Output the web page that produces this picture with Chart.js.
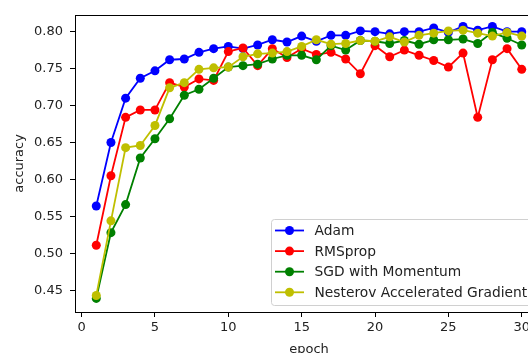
<!DOCTYPE html>
<html>
<head>
<meta charset="utf-8">
<script src="https://cdn.jsdelivr.net/npm/chart.js@4.4.1/dist/chart.umd.min.js"></script>
<style>
  html, body { margin: 0; padding: 0; background: #fff; overflow: hidden; }
  canvas { display: block; }
</style>
</head>
<body>
<canvas id="myChart" width="560" height="353"></canvas>
<script>
'use strict'

// DATA
const epochs = [1, 2, 3, 4, 5, 6, 7, 8, 9, 10, 11, 12, 13, 14, 15,
  16, 17, 18, 19, 20, 21, 22, 23, 24, 25, 26, 27, 28, 29, 30];

const adam = [0.564, 0.650, 0.710, 0.737, 0.747, 0.762, 0.763, 0.772, 0.777, 0.780,
  0.777, 0.782, 0.789, 0.786, 0.794, 0.787, 0.795, 0.795, 0.801, 0.800,
  0.797, 0.800, 0.800, 0.805, 0.799, 0.807, 0.802, 0.807, 0.800, 0.800];

const rmsprop = [0.511, 0.605, 0.684, 0.694, 0.694, 0.731, 0.725, 0.736, 0.734, 0.773,
  0.778, 0.754, 0.777, 0.765, 0.777, 0.769, 0.772, 0.763, 0.743, 0.781,
  0.766, 0.775, 0.768, 0.761, 0.752, 0.771, 0.684, 0.762, 0.777, 0.749];

const sgdMomentum = [0.439, 0.528, 0.566, 0.629, 0.655, 0.682, 0.714, 0.722, 0.737, 0.752,
  0.754, 0.756, 0.763, 0.768, 0.768, 0.762, 0.781, 0.775, 0.788, 0.787,
  0.784, 0.788, 0.783, 0.789, 0.789, 0.790, 0.784, 0.799, 0.791, 0.782];

const nesterov = [0.443, 0.544, 0.643, 0.646, 0.673, 0.724, 0.731, 0.749, 0.751, 0.752,
  0.766, 0.770, 0.771, 0.773, 0.780, 0.789, 0.783, 0.784, 0.788, 0.787,
  0.793, 0.786, 0.795, 0.798, 0.801, 0.802, 0.798, 0.794, 0.799, 0.794];

const seriesNames = ['Adam', 'RMSprop', 'SGD with Momentum', 'Nesterov Accelerated Gradient'];
const xTicks = [0, 5, 10, 15, 20, 25, 30];
const yTicks = [0.45, 0.50, 0.55, 0.60, 0.65, 0.70, 0.75, 0.80];

const FONT = 'DejaVu Sans';
const TEXT = '#222';
const SIZE = 13;
const LEGEND_SIZE = 13.8;

function points(values) {
  return values.map((v, i) => ({ x: epochs[i], y: v }));
}

function makeSet(name, values, color, order) {
  return {
    label: name,
    data: points(values),
    borderColor: color,
    backgroundColor: color,
    borderWidth: 1.8,
    pointRadius: 4.5,
    pointHoverRadius: 4.5,
    pointBorderWidth: 0,
    tension: 0,
    order: order
  };
}

// box around the axes, like matplotlib spines
const framePlugin = {
  id: 'frame',
  afterDatasetsDraw(chart) {
    const { ctx, chartArea: a } = chart;
    ctx.save();
    ctx.strokeStyle = '#000';
    ctx.lineWidth = 1;
    ctx.strokeRect(Math.round(a.left) + 0.5, Math.round(a.top) + 0.5,
      Math.round(a.right - a.left), Math.round(a.bottom - a.top));
    ctx.restore();
  }
};

// legend at lower right inside the axes
const legendPlugin = {
  id: 'boxLegend',
  afterDraw(chart) {
    const { ctx, chartArea: a } = chart;
    const sets = chart.data.datasets;
    const w = 267, h = 86, rowH = 20.6;
    const x0 = a.right - 5 - w;
    const y0 = a.bottom - 7 - h;
    ctx.save();
    ctx.beginPath();
    ctx.roundRect(x0 + 0.5, y0 + 0.5, w, h, 3);
    ctx.fillStyle = 'rgba(255,255,255,0.85)';
    ctx.fill();
    ctx.strokeStyle = '#d0d0d0';
    ctx.lineWidth = 1;
    ctx.stroke();
    ctx.font = LEGEND_SIZE + 'px "' + FONT + '"';
    ctx.textBaseline = 'middle';
    ctx.textAlign = 'left';
    for (let i = 0; i < sets.length; i++) {
      const y = y0 + 11.5 + i * rowH;
      ctx.strokeStyle = sets[i].borderColor;
      ctx.fillStyle = sets[i].borderColor;
      ctx.lineWidth = 1.8;
      ctx.beginPath();
      ctx.moveTo(x0 + 4, y);
      ctx.lineTo(x0 + 33, y);
      ctx.stroke();
      ctx.beginPath();
      ctx.arc(x0 + 18.5, y, 4.5, 0, Math.PI * 2);
      ctx.fill();
      ctx.fillStyle = TEXT;
      ctx.fillText(sets[i].label, x0 + 43.5, y + 1);
    }
    ctx.restore();
  }
};

const data = {
  datasets: [
    makeSet(seriesNames[0], adam, '#0000ff', 4),
    makeSet(seriesNames[1], rmsprop, '#ff0000', 3),
    makeSet(seriesNames[2], sgdMomentum, '#008000', 2),
    makeSet(seriesNames[3], nesterov, '#bfbf00', 1)
  ]
};

const config = {
  type: 'line',
  data: data,
  plugins: [framePlugin, legendPlugin],
  options: {
    responsive: false,
    animation: false,
    devicePixelRatio: 1,
    layout: { padding: { left: 0, top: 12, right: 17, bottom: 0 } },
    plugins: {
      legend: { display: false },
      tooltip: { enabled: false }
    },
    scales: {
      x: {
        type: 'linear',
        min: -0.45,
        max: 31.45,
        afterBuildTicks: (scale) => { scale.ticks = xTicks.map(v => ({ value: v })); },
        afterFit: (scale) => { scale.height = 41; },
        grid: { display: true, drawOnChartArea: false, drawTicks: true, tickLength: 5, color: '#000' },
        border: { display: false },
        ticks: {
          color: TEXT, padding: 3, maxRotation: 0,
          font: { family: FONT, size: SIZE }
        },
        title: {
          display: true, text: 'epoch', color: TEXT,
          padding: { top: 0, bottom: -4 },
          font: { family: FONT, size: SIZE }
        }
      },
      y: {
        type: 'linear',
        min: 0.4206,
        max: 0.8228,
        afterBuildTicks: (scale) => { scale.ticks = yTicks.map(v => ({ value: v })); },
        afterFit: (scale) => { scale.width = 75; },
        grid: { display: true, drawOnChartArea: false, drawTicks: true, tickLength: 5, color: '#000' },
        border: { display: false },
        ticks: {
          color: TEXT, padding: 7,
          font: { family: FONT, size: SIZE },
          callback: (v) => Number(v).toFixed(2)
        },
        title: {
          display: true, text: 'accuracy', color: TEXT,
          padding: { top: 12, bottom: 0 },
          font: { family: FONT, size: SIZE }
        }
      }
    }
  }
};

let canvasChart = document.getElementById('myChart');
const myChart = new Chart(canvasChart, config);
</script>
</body>
</html>
